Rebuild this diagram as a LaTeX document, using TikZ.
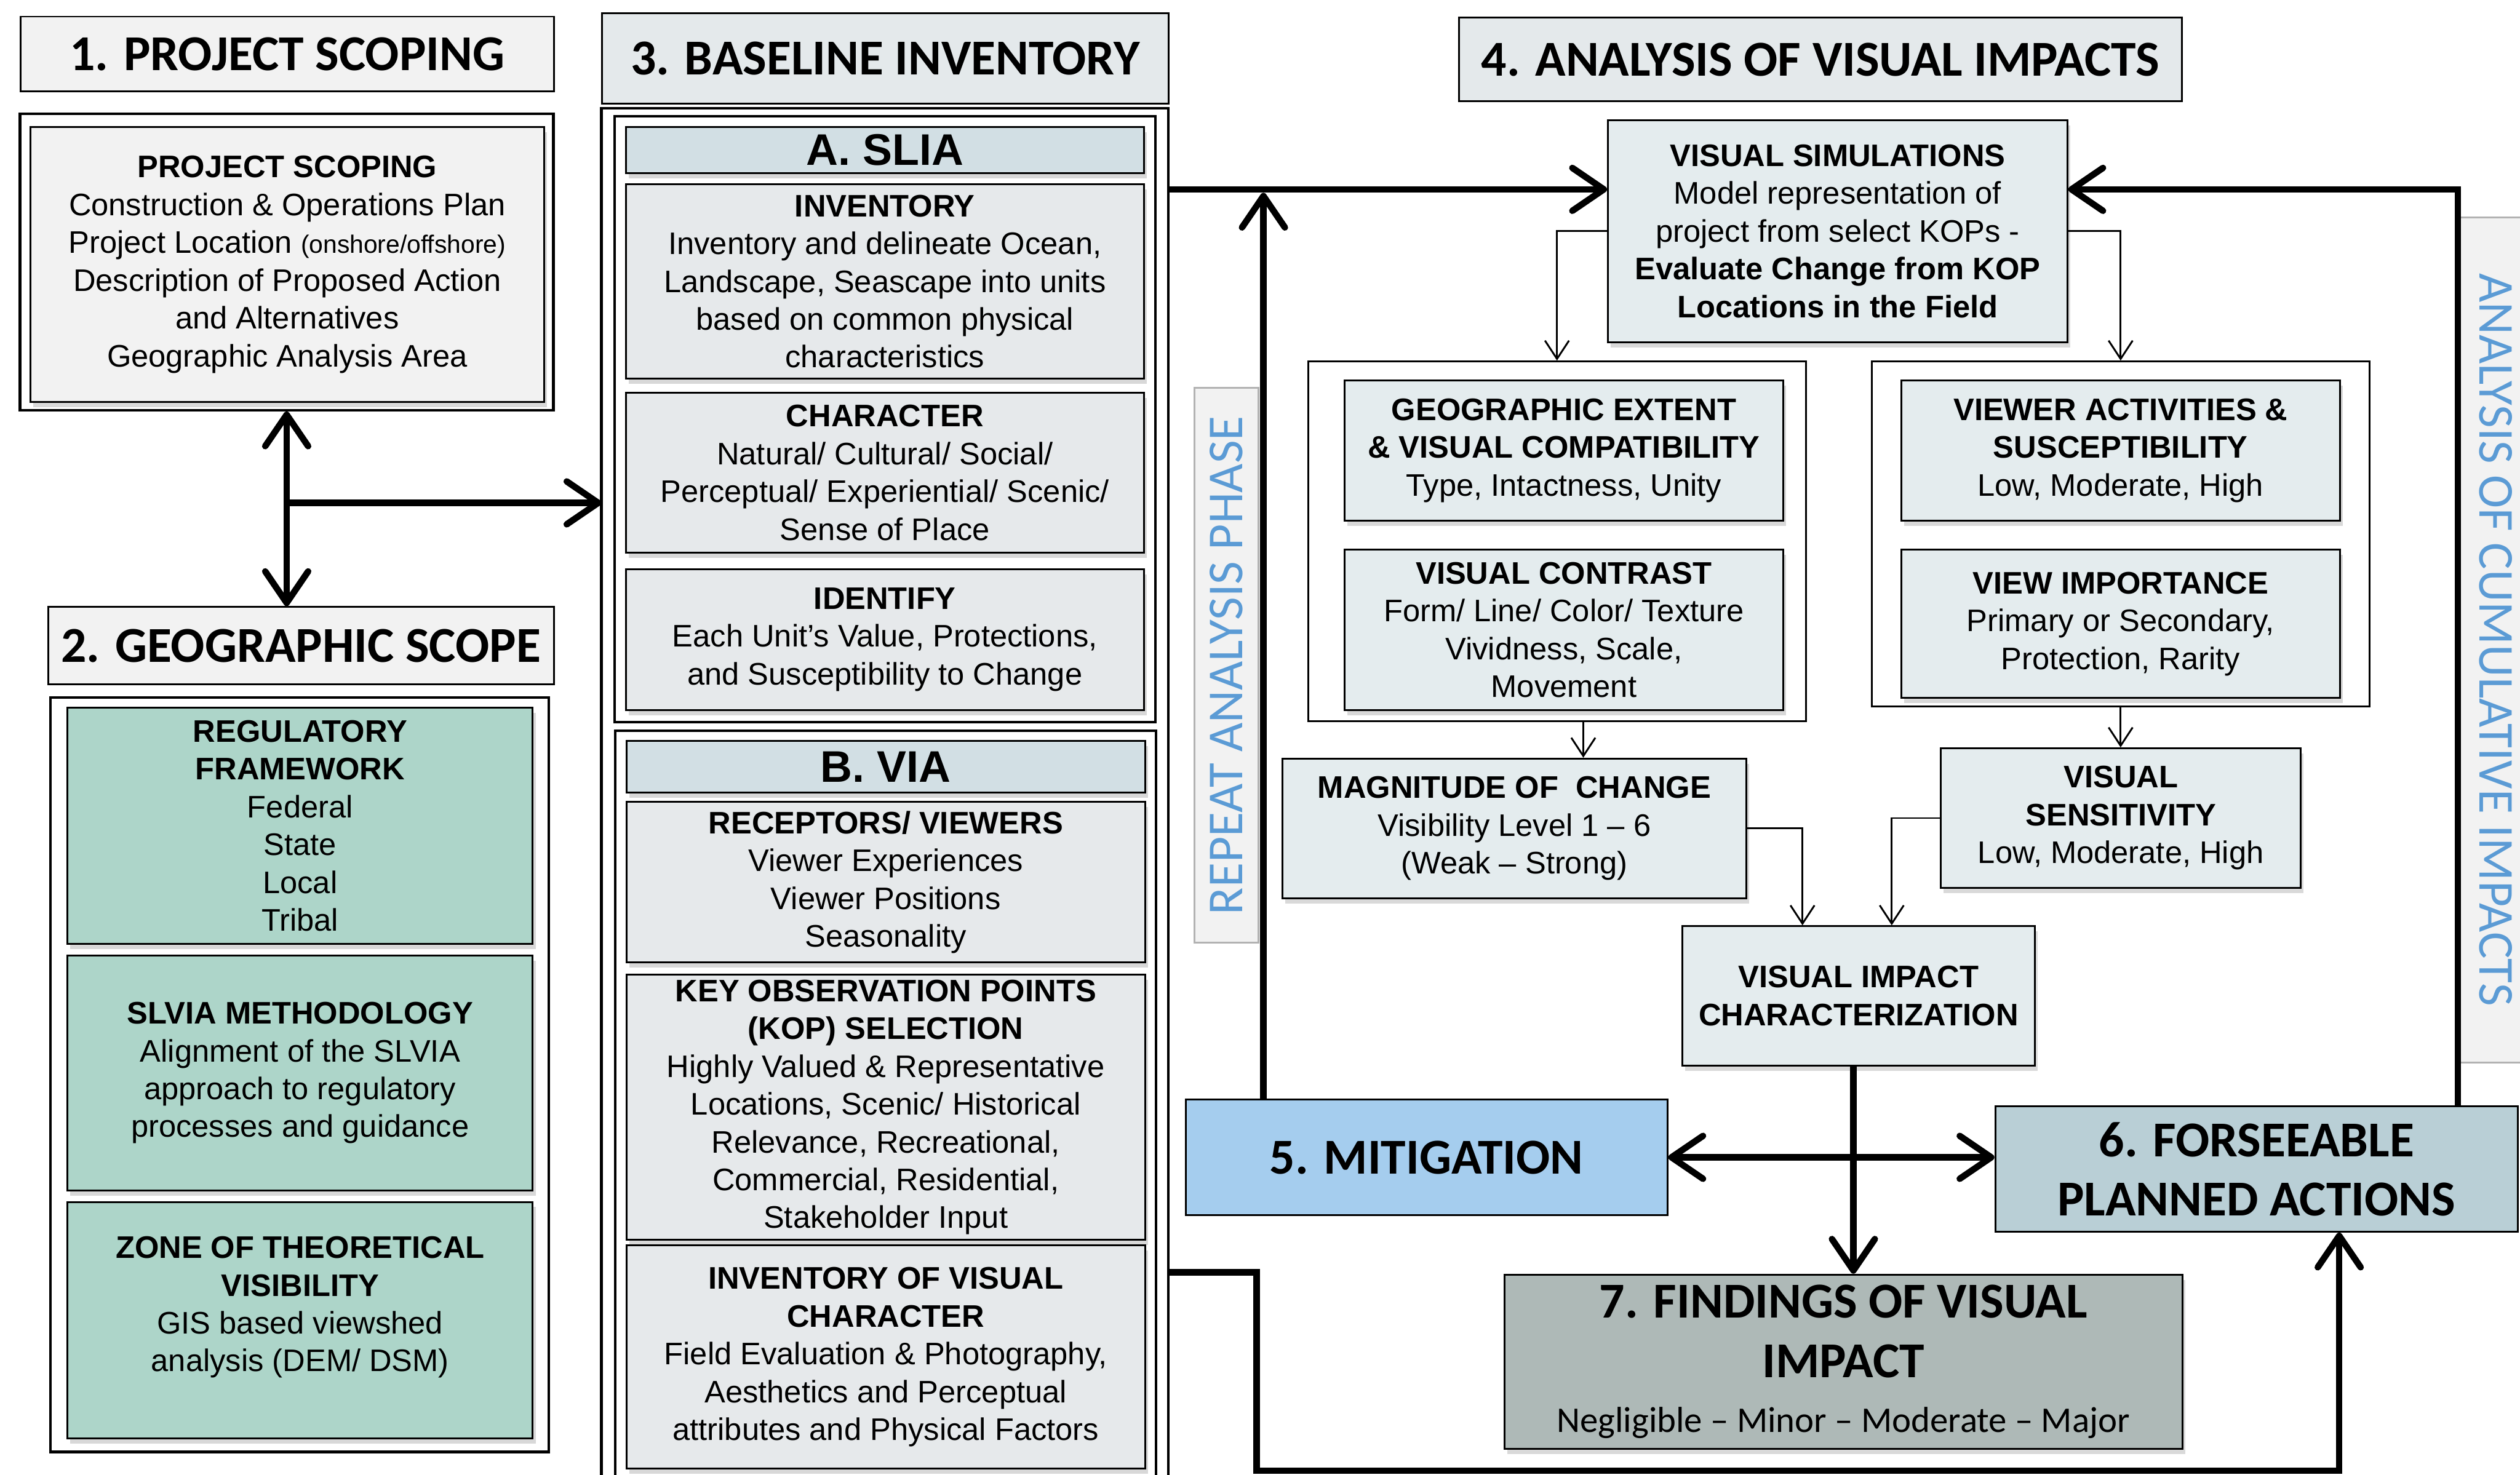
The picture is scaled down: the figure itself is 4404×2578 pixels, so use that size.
\documentclass[tikz,border=0pt]{standalone}
\usepackage{fontspec}
\setmainfont{Liberation Sans}
\newfontfamily\headfont{Carlito}
\usepackage{tikz}
\usetikzlibrary{arrows.meta,shadows}

\definecolor{headgray}{HTML}{F2F2F2}
\definecolor{headblue}{HTML}{E4E9EB}
\definecolor{slate}{HTML}{D2DFE4}
\definecolor{invgray}{HTML}{E6E9EB}
\definecolor{mint}{HTML}{ADD5C9}
\definecolor{anablue}{HTML}{E4ECEE}
\definecolor{mitblue}{HTML}{A5CDEE}
\definecolor{forsblue}{HTML}{B9CFD6}
\definecolor{findgray}{HTML}{AEB9B7}
\definecolor{phaseblue}{HTML}{5B9BD5}

\begin{document}
\begin{tikzpicture}[x=0.1mm,y=-0.1mm,
  infobox/.style={draw,line width=0.9pt,align=center,inner sep=0.4mm,font=\fontsize{15.5}{18.8}\selectfont},
  shadowbox/.style={infobox,drop shadow={shadow xshift=0.5mm,shadow yshift=-0.9mm,opacity=0.3}},
  groupbox/.style={draw,line width=1.3pt,fill=white},
  secthead/.style={draw,line width=0.9pt,align=center,font=\headfont\bfseries\fontsize{25}{29.5}\selectfont},
  phasebox/.style={draw=gray!60,line width=0.9pt,fill=headgray,text=phaseblue,font=\headfont\fontsize{25}{30}\selectfont},
  bigarrow/.style={line width=3.2pt,->,>={Straight Barb[length=5.5mm,width=7.5mm,round]}},
  bigboth/.style={bigarrow,<->},
  smallarrow/.style={line width=0.9pt,->,>={Straight Barb[length=3.2mm,width=4.2mm]}}]
  \useasboundingbox (0,0) rectangle (4404,2578);
  \clip (0,0) rectangle (4404,2578);

  \node[secthead,fill=headgray,minimum width=93.2mm,minimum height=13.1mm] (scoping) at (502,94.5) {1. PROJECT SCOPING};
  \node[groupbox,minimum width=93.2mm,minimum height=51.8mm] (scopeout) at (501,458) {};
  \node[shadowbox,fill=headgray,minimum width=89.8mm,minimum height=48.1mm] (scopein) at (502,462.5) {\textbf{PROJECT SCOPING}\\Construction \& Operations Plan\\Project Location {\fontsize{12.5}{18.8}\selectfont(onshore/offshore)}\\Description of Proposed Action\\and Alternatives\\Geographic Analysis Area};

  \node[secthead,fill=headgray,minimum width=88.4mm,minimum height=13.5mm] (geoscope) at (526,1128.5) {2. GEOGRAPHIC SCOPE};
  \node[groupbox,minimum width=87.1mm,minimum height=131.9mm] (geoout) at (523.5,1878.5) {};
  \node[shadowbox,fill=mint,minimum width=81.3mm,minimum height=41.3mm] (regulatory) at (524.5,1443.5) {\textbf{REGULATORY}\\\textbf{FRAMEWORK}\\Federal\\State\\Local\\Tribal};
  \node[shadowbox,fill=mint,minimum width=81.3mm,minimum height=41.1mm] (method) at (524.5,1875.5) {\textbf{SLVIA METHODOLOGY}\\Alignment of the SLVIA\\approach to regulatory\\processes and guidance};
  \node[shadowbox,fill=mint,minimum width=81.3mm,minimum height=41.3mm] (zone) at (524.5,2307.5) {\textbf{ZONE OF THEORETICAL}\\\textbf{VISIBILITY}\\GIS based viewshed\\analysis (DEM/ DSM)\\[-1mm]\mbox{}};

  \node[secthead,fill=headblue,minimum width=99mm,minimum height=15.8mm] (baseline) at (1547,102) {3. BASELINE INVENTORY};
  \node[groupbox,minimum width=99.1mm,minimum height=245.1mm] (sec3) at (1546.5,1414.5) {};
  \node[groupbox,minimum width=94.5mm,minimum height=105.9mm] (sliagrp) at (1546.5,732.5) {};
  \node[shadowbox,fill=slate,minimum width=90.5mm,minimum height=8.1mm,inner sep=0pt,font=\bfseries\fontsize{22}{24}\selectfont] (slia) at (1546.5,262.5) {A. SLIA};
  \node[shadowbox,fill=invgray,minimum width=90.5mm,minimum height=34mm] (inventory) at (1546.5,492) {\textbf{INVENTORY}\\Inventory and delineate Ocean,\\Landscape, Seascape into units\\based on common physical\\characteristics};
  \node[shadowbox,fill=invgray,minimum width=90.5mm,minimum height=27.9mm] (character) at (1546.5,826.5) {\textbf{CHARACTER}\\Natural/ Cultural/ Social/\\Perceptual/ Experiential/ Scenic/\\Sense of Place};
  \node[shadowbox,fill=invgray,minimum width=90.5mm,minimum height=24.6mm] (identify) at (1546.5,1118) {\textbf{IDENTIFY}\\Each Unit’s Value, Protections,\\and Susceptibility to Change};
  \node[groupbox,minimum width=94.5mm,minimum height=136.3mm] (viagrp) at (1547.5,1958.5) {};
  \node[shadowbox,fill=slate,minimum width=90.6mm,minimum height=9mm,inner sep=0pt,font=\bfseries\fontsize{22}{24}\selectfont] (via) at (1548,1340) {B. VIA};
  \node[shadowbox,fill=invgray,minimum width=90.6mm,minimum height=28mm] (receptors) at (1548,1542) {\textbf{RECEPTORS/ VIEWERS}\\Viewer Experiences\\Viewer Positions\\Seasonality};
  \node[shadowbox,fill=invgray,minimum width=90.6mm,minimum height=46.3mm] (kop) at (1548,1935.5) {\textbf{KEY OBSERVATION POINTS}\\\textbf{(KOP) SELECTION}\\Highly Valued \& Representative\\Locations, Scenic/ Historical\\Relevance, Recreational,\\Commercial, Residential,\\Stakeholder Input};
  \node[shadowbox,fill=invgray,minimum width=90.6mm,minimum height=39mm] (vischaracter) at (1548,2372) {\textbf{INVENTORY OF VISUAL}\\\textbf{CHARACTER}\\Field Evaluation \& Photography,\\Aesthetics and Perceptual\\attributes and Physical Factors};

  \node[secthead,fill=headblue,minimum width=126.3mm,minimum height=14.6mm] (analysis) at (3181.5,104) {4. ANALYSIS OF VISUAL IMPACTS};
  \node[shadowbox,fill=anablue,minimum width=80.3mm,minimum height=38.8mm] (sim) at (3211.5,404) {\textbf{VISUAL SIMULATIONS}\\Model representation of\\project from select KOPs -\\\textbf{Evaluate Change from KOP}\\\textbf{Locations in the Field}};
  \node[groupbox,line width=1pt,minimum width=87mm,minimum height=62.9mm] (leftgrp) at (2721,946.5) {};
  \node[shadowbox,fill=anablue,minimum width=76.6mm,minimum height=24.5mm] (extent) at (2733,787.5) {\textbf{GEOGRAPHIC EXTENT}\\\textbf{\& VISUAL COMPATIBILITY}\\Type, Intactness, Unity};
  \node[shadowbox,fill=anablue,minimum width=76.6mm,minimum height=28mm] (contrast) at (2733,1101) {\textbf{VISUAL CONTRAST}\\Form/ Line/ Color/ Texture\\Vividness, Scale,\\Movement};
  \node[groupbox,line width=1pt,minimum width=87mm,minimum height=60.3mm] (rightgrp) at (3706,933.5) {};
  \node[shadowbox,fill=anablue,minimum width=76.6mm,minimum height=24.5mm] (activities) at (3706,787.5) {\textbf{VIEWER ACTIVITIES \&}\\\textbf{SUSCEPTIBILITY}\\Low, Moderate, High};
  \node[shadowbox,fill=anablue,minimum width=76.6mm,minimum height=25.9mm] (importance) at (3706,1090.5) {\textbf{VIEW IMPORTANCE}\\Primary or Secondary,\\Protection, Rarity};
  \node[shadowbox,fill=anablue,minimum width=81.1mm,minimum height=24.4mm] (magnitude) at (2646.5,1448) {\textbf{MAGNITUDE OF\ \ CHANGE}\\Visibility Level 1 – 6\\(Weak – Strong)};
  \node[shadowbox,fill=anablue,minimum width=62.9mm,minimum height=24.4mm] (sensitivity) at (3706.5,1430) {\textbf{VISUAL}\\\textbf{SENSITIVITY}\\Low, Moderate, High};
  \node[shadowbox,fill=anablue,minimum width=61.6mm,minimum height=24.4mm] (impact) at (3248,1741) {\textbf{VISUAL IMPACT}\\\textbf{CHARACTERIZATION}};
  \node[secthead,fill=mitblue,minimum width=84.2mm,minimum height=20.2mm] (mitigation) at (2493,2023) {5. MITIGATION};
  \node[secthead,fill=forsblue,minimum width=91.3mm,minimum height=21.9mm] (foreseeable) at (3943.5,2043.5) {6. FORSEEABLE\\PLANNED ACTIONS};
  \node[secthead,fill=findgray,minimum width=118.5mm,minimum height=30.5mm,drop shadow={shadow xshift=0.5mm,shadow yshift=-0.9mm,opacity=0.3}] (findings) at (3221.5,2380.5) {7. FINDINGS OF VISUAL\\IMPACT\\[-2pt]{\mdseries\fontsize{18}{22}\selectfont Negligible – Minor – Moderate – Major}};
  \node[phasebox,rotate=90,minimum width=97mm,minimum height=11.2mm] (repeat) at (2143,1163) {REPEAT ANALYSIS PHASE};
  \node[phasebox,rotate=-90,minimum width=147.7mm,minimum height=12.8mm] (cumulative) at (4362,1118.5) {ANALYSIS OF CUMULATIVE IMPACTS};

  \coordinate (s3mid) at (1051,879);
  \coordinate (s3top) at (2042,331);
  \coordinate (s3low) at (2042,2224);
  \coordinate (mitup) at (2208,1922);
  \coordinate (loopdown) at (2196,2571);
  \coordinate (bend) at (4088,2571);

  \draw[bigboth] (scopeout.south) -- (scopeout.south |- geoscope.north);
  \draw[bigarrow] (scopeout.south |- s3mid) -- (s3mid);
  \draw[bigarrow] (s3top) -- (s3top -| sim.west);
  \draw[bigarrow] (mitup) -- ([yshift=-0.6mm]mitup |- s3top);
  \draw[bigarrow] ([xshift=35.2mm]foreseeable.north) |- (sim.east |- s3top);
  \draw[bigarrow] (s3low) -| (loopdown) -- (bend) -- (bend |- foreseeable.south);
  \draw[bigboth] (mitigation.east) -- (mitigation.east -| foreseeable.west);
  \draw[bigarrow] ([xshift=-0.9mm]impact.south) -- ([xshift=-0.9mm]impact.south |- findings.north);

  \draw[smallarrow] (sim.west) -| (leftgrp.north);
  \draw[smallarrow] (sim.east) -| (rightgrp.north);
  \draw[smallarrow] ([xshift=4.6mm]leftgrp.south) -- ([xshift=4.6mm]leftgrp.south |- magnitude.north);
  \draw[smallarrow] (rightgrp.south) -- (rightgrp.south |- sensitivity.north);
  \draw[smallarrow] (magnitude.east) -| ([xshift=-9.8mm]impact.north);
  \draw[smallarrow] (sensitivity.west) -| ([xshift=5.8mm]impact.north);
\end{tikzpicture}
\end{document}
